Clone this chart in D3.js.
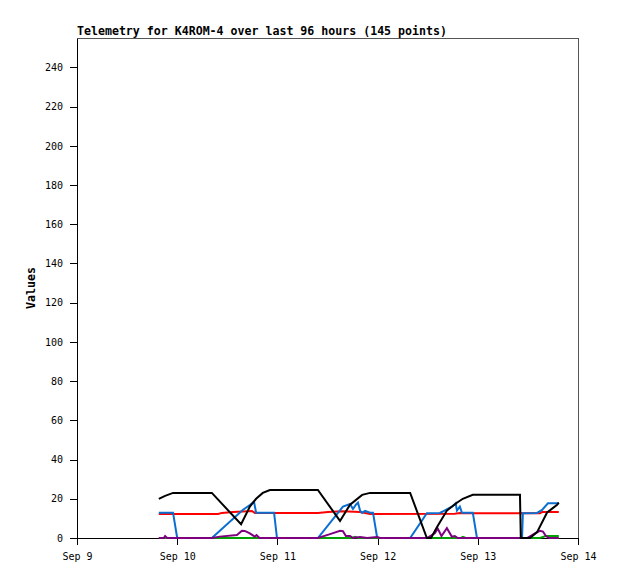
<!DOCTYPE html>
<html>
<head>
<meta charset="utf-8">
<script src="https://cdn.jsdelivr.net/npm/d3@7"></script>
<style>
  body { margin: 0; background: #fff; }
  text { font-family: "DejaVu Sans Mono", monospace; }
</style>
</head>
<body>
<div id="chart"></div>
<script>
// hours after Sep 9 00:00, value
const black = [[19.6,20],[21.1,21.5],[23.0,23],[32.3,23],[39.3,7],[41.4,16],[42.9,20],[44.5,23],[46.2,24.5],
  [57.7,24.5],[63.0,8.7],[65.4,17],[68.3,22],[70.2,23],[79.8,23],[83.8,0],[84.8,0],[86.2,5.5],[88.6,14],
  [91.0,18],[92.4,20],[94.8,22],[106.1,22],[106.3,0],[108.5,0],[110.2,3],[112.6,13],[113.8,15],[115.0,17],[115.4,18]];

const red = [[19.6,12.2],[33.8,12.2],[34.7,12.8],[37.4,13.2],[41.9,13.8],[42.6,12.8],[57.7,12.8],[60.1,13.3],
  [63.5,13.6],[67.8,13.3],[70.2,12.2],[90.5,12.4],[91.7,12.8],[94.1,12.6],[110.9,12.6],[111.4,13.2],[115.4,13.2]];

const blue = [[19.6,12.9],[23.0,12.9],[24.0,0],[32.3,0],[39.7,14.3],[41.4,16.8],[42.4,18.5],[42.9,12.9],
  [47.2,12.9],[47.9,0],[57.7,0],[63.7,16],[65.4,17.3],[66.1,14.8],[66.8,17],[67.3,18],[67.8,14],[68.3,12.8],
  [69.0,13.8],[70.2,12.9],[70.9,12.9],[71.9,0],[79.8,0],[83.8,12.6],[86.9,12.8],[87.6,13.5],[90.0,16.3],
  [90.7,17.7],[91.0,14],[91.7,16],[92.2,12.9],[94.8,12.9],[95.8,0],[106.6,0],[106.8,12.6],[110.2,12.8],
  [111.4,14.3],[112.8,17.7],[115.4,17.7]];

const green = [[19.6,0],[65.9,0],[66.6,0.6],[67.3,0],[91.9,0],[92.4,0.6],[93.1,0],[110.9,0],[112.3,1],[115.4,1]];

const purple = [[19.6,0],[20.8,0],[21.1,1],[21.6,0],[32.3,0],[34.2,0.7],[38.3,1.5],[39.5,3.7],[40.2,3.6],
  [41.4,2.4],[42.6,0.7],[43.0,1.5],[43.7,0],[57.7,0],[60.6,2],[63.0,3.7],[63.7,3.5],[64.4,1],[65.4,1],
  [66.1,0],[67.8,0.5],[69.5,0],[71.9,0.5],[72.6,0],[83.8,0],[85.7,2.4],[86.4,4.8],[87.3,1],[88.6,5],
  [89.8,0.6],[90.5,1],[91.2,0],[107.8,0],[109.7,2.4],[110.9,3.7],[111.6,3.3],[112.3,1],[113.1,0],[115.4,0]];

const title = "Telemetry for K4ROM-4 over last 96 hours (145 points)";
const yTicks = [0, 20, 40, 60, 80, 100, 120, 140, 160, 180, 200, 220, 240];

const width = 618, height = 579;
const margin = {top: 38, right: 40, bottom: 41, left: 77};
const start = new Date(2023, 8, 9);
const toDate = h => new Date(start.getTime() + h * 3600 * 1000);

const svg = d3.select("#chart").append("svg")
  .attr("width", width)
  .attr("height", height);

const x = d3.scaleTime()
  .domain([start, new Date(2023, 8, 14)])
  .range([margin.left, width - margin.right]);
const y = d3.scaleLinear()
  .domain([0, 255])
  .range([height - margin.bottom, margin.top]);

// frame (top + right)
svg.append("path")
  .attr("d", `M${margin.left},${margin.top + 0.5}H${width - margin.right + 0.5}V${height - margin.bottom}`)
  .attr("fill", "none")
  .attr("stroke", "#555")
  .attr("shape-rendering", "crispEdges");

const xAxis = svg.append("g")
  .attr("transform", `translate(0,${y(0)})`)
  .call(d3.axisBottom(x).ticks(d3.timeDay.every(1)).tickFormat(d3.timeFormat("%b %-d"))
    .tickSize(7).tickSizeOuter(0));

const yAxis = svg.append("g")
  .attr("transform", `translate(${margin.left},0)`)
  .call(d3.axisLeft(y).tickValues(yTicks).tickSize(7).tickSizeOuter(0));

[xAxis, yAxis].forEach(a => {
  a.selectAll("path, line").attr("stroke", "#000").attr("shape-rendering", "crispEdges");
  a.selectAll("text").attr("font-family", "DejaVu Sans Mono").attr("font-size", 10).attr("fill", "#000");
});
xAxis.selectAll("text").attr("dy", "1.1em").attr("y", 11);
yAxis.selectAll("text").attr("x", -14);

const line = d3.line()
  .x(d => x(toDate(d[0])))
  .y(d => y(d[1]));

// series drawn over the axes
[[red, "#ff0000"], [blue, "#0a6fd0"], [green, "#00a000"], [purple, "#7f007f"], [black, "#000000"]]
  .forEach(([data, color]) => {
    svg.append("path")
      .datum(data)
      .attr("fill", "none")
      .attr("stroke", color)
      .attr("stroke-width", 2)
      .attr("d", line);
  });

svg.append("text")
  .attr("x", margin.left)
  .attr("y", 35)
  .attr("font-size", 11.6)
  .attr("font-weight", "bold")
  .text(title);

svg.append("text")
  .attr("transform", `translate(35,${(margin.top + height - margin.bottom) / 2}) rotate(-90)`)
  .attr("text-anchor", "middle")
  .attr("font-size", 11.6)
  .attr("font-weight", "bold")
  .text("Values");
</script>
</body>
</html>
